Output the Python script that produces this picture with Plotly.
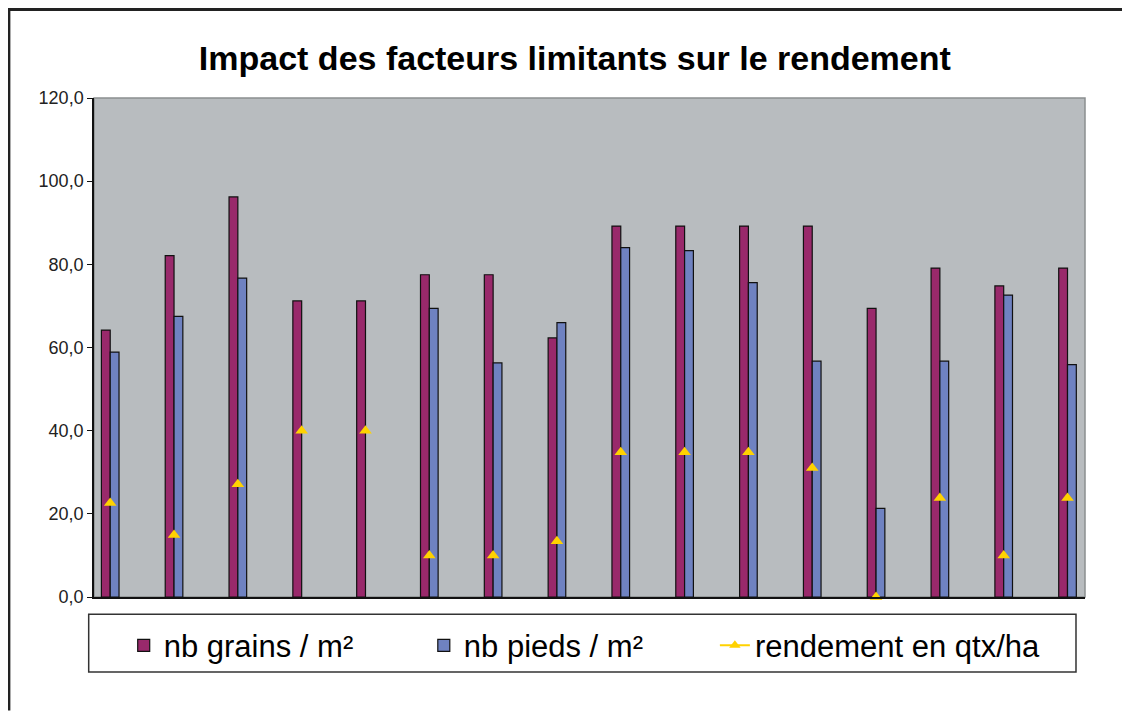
import plotly.graph_objects as go

categories = [str(i) for i in range(1, 17)]
grains = [64.2, 82.1, 96.2, 71.2, 71.2, 77.5, 77.5, 62.3, 89.2, 89.2, 89.2, 89.2, 69.4, 79.1, 74.8, 79.1]
pieds = [58.9, 67.5, 76.7, None, None, 69.4, 56.3, 66.0, 84.0, 83.3, 75.6, 56.7, 21.3, 56.7, 72.6, 55.9]
rendement = [22.6, 14.9, 27.1, 40.0, 40.0, 10.0, 10.0, 13.4, 34.8, 34.8, 34.8, 31.0, 0.0, 23.8, 10.0, 23.8]
y_ticks = [0, 20, 40, 60, 80, 100, 120]

# page has an 8px body margin: work in page pixels, convert to figure pixels
OFF = 8
W, H = 1130 - OFF, 711 - OFF
PL, PR, PT, PB = 94.3 - OFF, 1085.0 - OFF, 97.7 - OFF, 597.3 - OFF
FONT = "Liberation Sans, Arial, sans-serif"

purple = "#99296B"
blue = "#6F82C1"
yellow = "#FFD200"

fig = go.Figure()
fig.add_trace(go.Bar(x=categories, y=grains, name="nb grains / m²", legend="legend",
                     marker=dict(color=purple, line=dict(color="#111", width=1.2))))
fig.add_trace(go.Bar(x=categories, y=pieds, name="nb pieds / m²", legend="legend2",
                     marker=dict(color=blue, line=dict(color="#111", width=1.2))))
fig.add_trace(go.Scatter(x=categories, y=rendement, mode="markers", showlegend=False,
                         cliponaxis=False, name="rendement en qtx/ha",
                         marker=dict(symbol="triangle-up", size=11, color=yellow)))
fig.add_trace(go.Scatter(x=[None], y=[None], mode="lines+markers", name="rendement en qtx/ha",
                         legend="legend3",
                         line=dict(color=yellow, width=2),
                         marker=dict(symbol="triangle-up", size=10, color=yellow)))


def px(x):  # page pixel -> paper x
    return (x - OFF - PL) / (PR - PL)


def py(y):  # page pixel -> paper y
    return (PB - (y - OFF)) / (PB - PT)


shapes = [
    dict(type="rect", xref="x domain", yref="y domain", x0=0, x1=1, y0=0, y1=1,
         line=dict(color="#8A8E90", width=1.5), layer="below"),
    # legend box
    dict(type="rect", xref="paper", yref="paper", x0=px(89), x1=px(1076), y0=py(614.5), y1=py(672.5),
         fillcolor="white", line=dict(color="#333", width=1.5), layer="above"),
    # outer frame lines (top and left)
    dict(type="line", xref="paper", yref="paper", x0=px(7.5), x1=px(1130), y0=py(9.2), y1=py(9.2),
         line=dict(color="#222", width=3)),
    dict(type="line", xref="paper", yref="paper", x0=px(9.2), x1=px(9.2), y0=py(7.5), y1=py(711),
         line=dict(color="#222", width=3)),
]


def legend_at(xpage):
    return dict(orientation="h", x=px(xpage), xanchor="left", y=py(646), yanchor="middle",
                xref="paper", yref="paper", bgcolor="rgba(0,0,0,0)", borderwidth=0,
                font=dict(family=FONT, size=31, color="#000"))


fig.update_layout(
    width=W, height=H, autosize=False,
    margin=dict(l=PL, r=W - PR, t=PT, b=H - PB, pad=0),
    paper_bgcolor="white",
    plot_bgcolor="#B8BCBF",
    separators=", ",
    barmode="group",
    bargap=0.724,
    bargroupgap=0,
    font=dict(family=FONT, color="#111"),
    title=dict(text="Impact des facteurs limitants sur le rendement",
               x=px(575), xref="paper", xanchor="center",
               y=1 - (58 - OFF) / H, yref="container", yanchor="middle",
               font=dict(family=FONT, size=34, color="#000", weight="bold")),
    xaxis=dict(range=[-0.254, 15.274], showticklabels=False, ticks="", showgrid=False,
               showline=True, linecolor="#111", linewidth=1.5, zeroline=False),
    yaxis=dict(range=[0, 120], tickvals=y_ticks, tickformat=".1f", ticks="outside",
               ticklen=5, tickwidth=1.2, tickcolor="#111", showgrid=False,
               showline=True, linecolor="#111", linewidth=1.5, zeroline=False,
               tickfont=dict(family=FONT, size=18, color="#222")),
    legend=legend_at(124),
    legend2=legend_at(424),
    legend3=legend_at(715),
    shapes=shapes,
)

fig.write_html("out.html")
